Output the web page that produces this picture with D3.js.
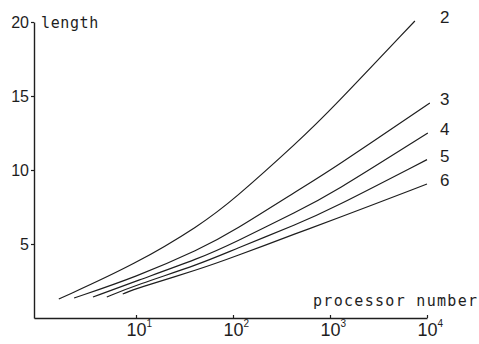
<!DOCTYPE html>
<html>
<head>
<meta charset="utf-8">
<script src="https://cdn.jsdelivr.net/npm/d3@7"></script>
<style>
  body { margin: 0; background: #fff; }
  svg { display: block; }
</style>
</head>
<body>
<div id="container"></div>
<script>
// data (processor number -> length)
const seriesNames = ["2", "3", "4", "5", "6"];

const procs2 = [1.6, 10, 46, 100, 490, 1000, 7500];
const len2 = [1.28, 3.65, 6.28, 7.95, 12.03, 14.0, 20.07];

const procs3 = [2.3, 10, 46, 100, 490, 1000, 10700];
const len3 = [1.35, 2.77, 4.66, 5.85, 8.72, 9.95, 14.53];

const procs4 = [3.6, 10, 46, 100, 490, 1000, 10200];
const len4 = [1.42, 2.5, 4.05, 5.05, 7.3, 8.33, 12.5];

const procs5 = [5.0, 10, 46, 100, 490, 1000, 10000];
const len5 = [1.42, 2.23, 3.65, 4.6, 6.42, 7.32, 10.7];

const procs6 = [7.3, 10, 46, 100, 490, 1000, 10000];
const len6 = [1.62, 2.0, 3.31, 4.1, 5.81, 6.55, 9.05];

const xTicks = [10, 100, 1000, 10000];
const xExponents = ["1", "2", "3", "4"];
const yTicks = [5, 10, 15, 20];

const W = 479, H = 344;
const ink = "#1e1e1e";
const numFont = "'Liberation Sans', Arial, sans-serif";
const typeFont = "'DejaVu Sans Mono', 'Liberation Mono', monospace";

const xScale = d3.scaleLog().domain([0.888, 10000]).range([34, 427]);
const yScale = d3.scaleLinear().domain([0, 20]).range([318, 22]);

const svg = d3.select("#container")
  .append("svg")
  .attr("width", W)
  .attr("height", H);

// y axis
const yAxis = d3.axisLeft(yScale)
  .tickValues(yTicks)
  .tickSizeInner(3)
  .tickSizeOuter(0)
  .tickPadding(2);

const gy = svg.append("g")
  .attr("transform", "translate(" + xScale(0.888) + ",0)")
  .call(yAxis);
gy.select(".domain").attr("stroke", ink).attr("stroke-width", 1.4);
gy.selectAll(".tick line").attr("stroke", ink).attr("stroke-width", 1.2);
gy.selectAll(".tick text")
  .attr("fill", ink)
  .style("font-family", numFont)
  .style("font-size", "16px");

// x axis (log)
const xAxis = d3.axisBottom(xScale)
  .tickValues(xTicks)
  .tickSizeInner(-3)
  .tickSizeOuter(0)
  .tickPadding(0);

const gx = svg.append("g")
  .attr("transform", "translate(0," + yScale(0) + ")")
  .call(xAxis);
gx.select(".domain").attr("stroke", ink).attr("stroke-width", 1.4);
gx.selectAll(".tick line").attr("stroke", ink).attr("stroke-width", 1.2);

gx.selectAll(".tick text").remove();
gx.selectAll(".tick").each(function (d, i) {
  const t = d3.select(this).append("text")
    .attr("x", -10)
    .attr("y", 18)
    .attr("fill", ink)
    .attr("text-anchor", "start")
    .style("font-family", numFont)
    .style("font-size", "18px");
  t.append("tspan").text("10");
  t.append("tspan")
    .attr("dy", -9)
    .style("font-size", "10px")
    .text(xExponents[i]);
});

// axis titles
svg.append("text")
  .attr("x", 41)
  .attr("y", 28)
  .attr("fill", ink)
  .style("font-family", typeFont)
  .style("font-size", "15px")
  .style("letter-spacing", "0.6px")
  .text("length");

svg.append("text")
  .attr("x", 313)
  .attr("y", 306)
  .attr("fill", ink)
  .style("font-family", typeFont)
  .style("font-size", "15px")
  .style("letter-spacing", "1.3px")
  .text("processor number");

// curves
const series = [
  { name: seriesNames[0], procs: procs2, lens: len2 },
  { name: seriesNames[1], procs: procs3, lens: len3 },
  { name: seriesNames[2], procs: procs4, lens: len4 },
  { name: seriesNames[3], procs: procs5, lens: len5 },
  { name: seriesNames[4], procs: procs6, lens: len6 }
];

const line = d3.line()
  .x(d => xScale(d[0]))
  .y(d => yScale(d[1]))
  .curve(d3.curveBasis);

svg.selectAll(".curve")
  .data(series)
  .enter()
  .append("path")
  .attr("class", "curve")
  .attr("fill", "none")
  .attr("stroke", ink)
  .attr("stroke-width", 1.2)
  .attr("d", s => line(s.procs.map((p, i) => [p, s.lens[i]])));

svg.selectAll(".curve-label")
  .data(series)
  .enter()
  .append("text")
  .attr("class", "curve-label")
  .attr("x", 440)
  .attr("y", s => yScale(s.lens[s.lens.length - 1]) - 4)
  .attr("dy", "0.35em")
  .attr("fill", ink)
  .style("font-family", numFont)
  .style("font-size", "17px")
  .text(s => s.name);
</script>
</body>
</html>
